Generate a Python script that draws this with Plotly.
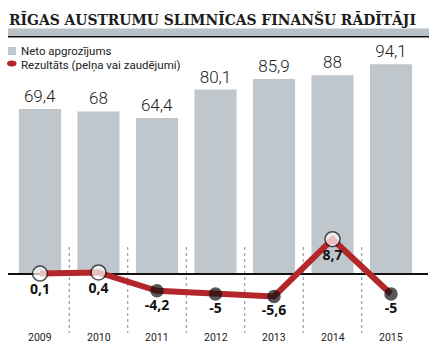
import plotly.graph_objects as go

# ---- data ----
years = ["2009", "2010", "2011", "2012", "2013", "2014", "2015"]
revenue = [69.4, 68, 64.4, 80.1, 85.9, 88, 94.1]          # Neto apgrozījums
result = [0.1, 0.4, -4.2, -5, -5.6, 8.7, -5]              # Rezultāts

title_text = "RĪGAS AUSTRUMU SLIMNĪCAS FINANŠU RĀDĪTĀJI"
legend_bar = "Neto apgrozījums"
legend_line = "Rezultāts (pelņa vai zaudējumi)"

W, H = 429, 355
BAR_FLOOR = -21.7   # revenue-axis value at the baseline (truncated axis)
BAR_SCALE = 1.812   # px per unit on revenue axis
LINE_SCALE = 4.0    # px per unit on result axis
ZERO_PX = 274
TOP_PX = 40

def py(px):
    return 1 - px / H

def fmt(v):
    return f"{v:g}".replace(".", ",")

BAR_COLOR = "#bfc7cd"
RED = "#b3262a"

fig = go.Figure()

fig.add_trace(go.Bar(
    x=list(range(len(years))),
    y=[v - BAR_FLOOR for v in revenue],
    base=BAR_FLOOR,
    width=0.72,
    marker=dict(color=BAR_COLOR, line=dict(width=0)),
    text=[fmt(v) for v in revenue],
    textposition="outside",
    textfont=dict(family="Roboto", size=17, color="#222222", weight=300),
    cliponaxis=False,
    xaxis="x", yaxis="y",
    hoverinfo="skip",
    showlegend=False,
))

fig.add_trace(go.Scatter(
    x=list(range(len(years))),
    y=result,
    mode="lines+markers+text",
    line=dict(color=RED, width=6),
    marker=dict(
        size=[15 if v >= 0 else 12 for v in result],
        color=["white" if v >= 0 else "#111111" for v in result],
        line=dict(color="#111111", width=1.5),
    ),
    text=[fmt(v) for v in result],
    textposition="bottom center",
    textfont=dict(family="Open Sans", size=14, color="#111111", weight=700),
    cliponaxis=False,
    xaxis="x", yaxis="y2",
    hoverinfo="skip",
    showlegend=False,
))

# x axis: category centres at 40 + 58.5*i px, domain 8..428 px
x0_px, x1_px = 8, 428
k = 58.5
xa = -(40 - x0_px) / k
xb = xa + (x1_px - x0_px) / k

bar_dom = [py(ZERO_PX), py(TOP_PX)]
bar_top = BAR_FLOOR + (ZERO_PX - TOP_PX) / BAR_SCALE
line_dom = [0, py(TOP_PX)]
l_lo = -(H - ZERO_PX) / LINE_SCALE
l_hi = (ZERO_PX - TOP_PX) / LINE_SCALE

shapes = []
# dotted separators
for i in range(len(years) - 1):
    shapes.append(dict(type="line", xref="x", yref="paper",
                       x0=i + 0.5, x1=i + 0.5, y0=py(247), y1=py(333),
                       line=dict(color="#8a8a8a", width=1, dash="dot"),
                       layer="below"))
# header band and rule
shapes.append(dict(type="rect", xref="paper", yref="paper",
                   x0=8 / W, x1=1, y0=py(36.2), y1=py(28.5),
                   fillcolor="#b9c0c6", line=dict(width=0), layer="above"))
shapes.append(dict(type="line", xref="paper", yref="paper",
                   x0=8 / W, x1=1, y0=py(36.8), y1=py(36.8),
                   line=dict(color="#111111", width=1.5)))
# legend symbols
shapes.append(dict(type="rect", xref="paper", yref="paper",
                   x0=8 / W, x1=16 / W, y0=py(55), y1=py(47),
                   fillcolor=BAR_COLOR, line=dict(width=0)))
shapes.append(dict(type="circle", xref="paper", yref="paper",
                   x0=7 / W, x1=16.5 / W, y0=py(66.5), y1=py(60.5),
                   fillcolor=RED, line=dict(width=0)))

annotations = [
    dict(text=f"<b>{title_text}</b>", xref="paper", yref="paper",
         x=7 / W, y=py(19), xanchor="left", yanchor="middle", showarrow=False,
         font=dict(family="DejaVu Serif", size=13.9, color="#1c1c1c")),
    dict(text=legend_bar, xref="paper", yref="paper",
         x=19 / W, y=py(51), xanchor="left", yanchor="middle", showarrow=False,
         font=dict(family="Roboto", size=11.5, color="#222222")),
    dict(text=legend_line, xref="paper", yref="paper",
         x=19 / W, y=py(64.5), xanchor="left", yanchor="middle", showarrow=False,
         font=dict(family="Roboto", size=11.5, color="#222222")),
]
for i, yr in enumerate(years):
    annotations.append(dict(text=yr, xref="x", yref="paper", x=i, y=py(337),
                            xanchor="center", yanchor="middle", showarrow=False,
                            font=dict(family="Roboto", size=10.5, color="#222222")))

fig.update_layout(
    width=W, height=H,
    margin=dict(l=0, r=0, t=0, b=0, pad=0),
    paper_bgcolor="white", plot_bgcolor="rgba(0,0,0,0)",
    showlegend=False,
    xaxis=dict(domain=[x0_px / W, x1_px / W], range=[xa, xb],
               showticklabels=False, showgrid=False, zeroline=False,
               showline=False, ticks="", anchor="y"),
    yaxis=dict(domain=bar_dom, range=[BAR_FLOOR, bar_top],
               showticklabels=False, showgrid=False, zeroline=False,
               showline=False, ticks="", anchor="x"),
    yaxis2=dict(domain=line_dom, range=[l_lo, l_hi],
                showticklabels=False, showgrid=False,
                zeroline=True, zerolinecolor="#111111", zerolinewidth=1.5,
                showline=False, ticks="", anchor="x"),
    shapes=shapes,
    annotations=annotations,
)

fig.write_html("out.html", config={"displayModeBar": False},
               post_script="document.body.style.margin='0';")
